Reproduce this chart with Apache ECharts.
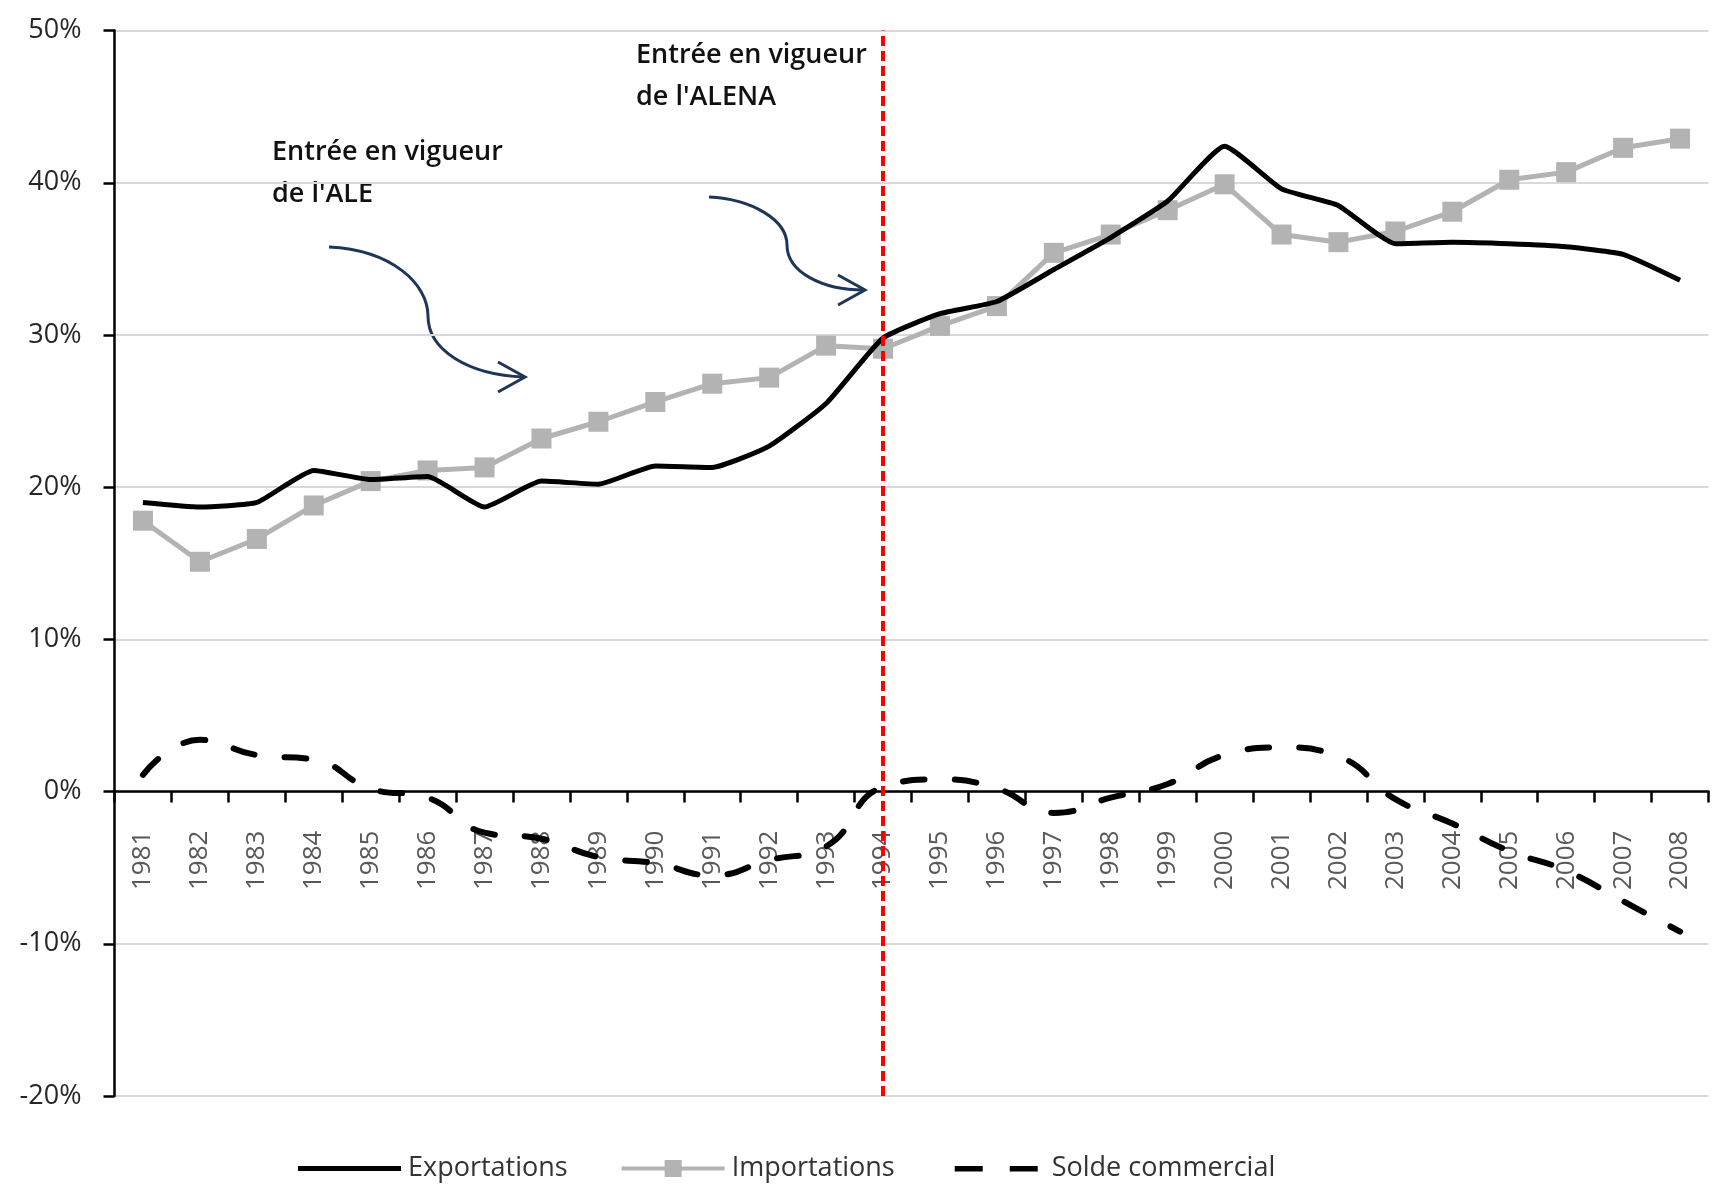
<!DOCTYPE html>
<html>
<head>
<meta charset="utf-8">
<script src="https://cdn.jsdelivr.net/npm/echarts@6/dist/echarts.min.js"></script>
<style>
  html, body { margin: 0; padding: 0; background: #fff; }
  #chart { width: 1712px; height: 1185px; }
</style>
</head>
<body>
<div id="chart"></div>
<script>
const years = ['1981', '1982', '1983', '1984', '1985', '1986', '1987', '1988', '1989', '1990',
  '1991', '1992', '1993', '1994', '1995', '1996', '1997', '1998', '1999', '2000',
  '2001', '2002', '2003', '2004', '2005', '2006', '2007', '2008'];

const exportations = [19.0, 18.7, 19.0, 21.1, 20.5, 20.7, 18.7, 20.4, 20.2, 21.4,
  21.3, 22.7, 25.5, 29.8, 31.4, 32.2, 34.3, 36.4, 38.8, 42.4,
  39.6, 38.5, 36.0, 36.1, 36.0, 35.8, 35.3, 33.6];

const importations = [17.8, 15.1, 16.6, 18.8, 20.4, 21.1, 21.3, 23.2, 24.3, 25.6,
  26.8, 27.2, 29.3, 29.1, 30.6, 31.9, 35.4, 36.6, 38.2, 39.9,
  36.6, 36.1, 36.8, 38.1, 40.2, 40.7, 42.3, 42.9];

const solde = [1.1, 3.4, 2.4, 2.1, 0.2, -0.4, -2.7, -3.1, -4.3, -4.7,
  -5.5, -4.5, -3.6, 0.3, 0.8, 0.2, -1.4, -0.4, 0.5, 2.4,
  2.9, 2.3, -0.5, -2.1, -3.9, -5.2, -7.2, -9.2];

const yTicks = { min: -20, max: 50, step: 10 };
const aleYear = '1994';

const font = '"Open Sans", "Liberation Sans", sans-serif';
const arrowColor = '#1f3657';

const gridTop = 30.6, gridBottom = 89, chartH = 1185;
const gridH = chartH - gridTop - gridBottom;
// category axis sits on the 0% line, labels included
const xOffset = -gridH * (0 - yTicks.min) / (yTicks.max - yTicks.min);

// legend icons (0..19 tall box so every icon keeps the same scale)
const pad = 'M0,0 L0.1,0 Z M0,19 L0.1,19 Z ';
const iconSolid = 'path://' + pad + 'M0,7 H103 V12 H0 Z';
const iconMarker = 'path://' + pad + 'M0,7.5 H43 V1 H60 V7.5 H103 V11.5 H60 V18 H43 V11.5 H0 Z';
const iconDash = 'path://' + pad + 'M6,7 H34 V12.5 H6 Z M61,7 H89 V12.5 H61 Z';

// curved annotation arrow: two cubic segments + open head
function arrow(a, b) {
  const st = { stroke: arrowColor, lineWidth: 3, fill: null };
  return [
    { type: 'bezierCurve', shape: a, style: st },
    { type: 'bezierCurve', shape: b, style: st },
    {
      type: 'polyline',
      shape: { points: [[b.x2 - 26, b.y2 - 15], [b.x2 + 1, b.y2], [b.x2 - 26, b.y2 + 15]] },
      style: st
    }
  ];
}

const chart = echarts.init(document.getElementById('chart'));

const option = {
  backgroundColor: '#fff',
  animation: false,
  grid: { left: 114.5, right: 3.5, top: gridTop, bottom: gridBottom },
  xAxis: {
    type: 'category',
    data: years,
    boundaryGap: true,
    offset: xOffset,
    axisLine: { onZero: false, lineStyle: { color: '#000', width: 2.5 } },
    axisTick: { show: true, interval: 0, length: 11, lineStyle: { color: '#000', width: 2.5 } },
    axisLabel: {
      interval: 0, rotate: 90, margin: 39,
      fontFamily: font, fontSize: 26, color: '#595959'
    },
    splitLine: { show: false }
  },
  yAxis: {
    type: 'value',
    min: yTicks.min, max: yTicks.max, interval: yTicks.step,
    axisLine: { show: true, lineStyle: { color: '#000', width: 2.5 } },
    axisTick: { show: true, length: 11, lineStyle: { color: '#000', width: 2.5 } },
    axisLabel: {
      formatter: '{value}%', margin: 33,
      fontFamily: font, fontSize: 27, color: '#262626'
    },
    splitLine: { lineStyle: { color: '#d9d9d9', width: 2 } }
  },
  legend: {
    left: 293, top: 1150,
    itemWidth: 103, itemHeight: 19, itemGap: 54,
    itemStyle: { borderWidth: 0 },
    lineStyle: { width: 0 },
    textStyle: { fontFamily: font, fontSize: 27, color: '#333', padding: [0, 0, 0, 2] },
    data: [
      { name: 'Exportations', icon: iconSolid },
      { name: 'Importations', icon: iconMarker },
      { name: 'Solde commercial', icon: iconDash }
    ]
  },
  series: [
    {
      name: 'Exportations',
      type: 'line',
      data: exportations,
      smooth: 0.15,
      symbol: 'none',
      lineStyle: { color: '#000', width: 5 },
      itemStyle: { color: '#000' },
      z: 3
    },
    {
      name: 'Importations',
      type: 'line',
      data: importations,
      symbol: 'rect',
      symbolSize: 20,
      lineStyle: { color: '#b3b3b3', width: 5 },
      itemStyle: { color: '#b3b3b3' },
      z: 2
    },
    {
      name: 'Solde commercial',
      type: 'line',
      data: solde,
      smooth: 0.5,
      symbol: 'none',
      lineStyle: { color: '#000', width: 6, type: [22, 30], cap: 'round' },
      itemStyle: { color: '#000' },
      z: 3,
      markLine: {
        silent: true,
        symbol: 'none',
        label: { show: false },
        lineStyle: { color: '#ff0000', width: 4, type: [10, 5] },
        z: 5,
        data: [{ xAxis: aleYear }]
      }
    }
  ],
  graphic: {
    elements: [
      {
        type: 'text', x: 272, y: 131,
        style: {
          text: "Entrée en vigueur\nde l'ALE",
          font: '600 27px ' + font, fill: '#111', lineHeight: 42
        }
      },
      {
        type: 'text', x: 636, y: 34,
        style: {
          text: "Entrée en vigueur\nde l'ALENA",
          font: '600 27px ' + font, fill: '#111', lineHeight: 42
        }
      },
      ...arrow(
        { x1: 329, y1: 247, cpx1: 392, cpy1: 250, cpx2: 428, cpy2: 284, x2: 428, y2: 316 },
        { x1: 428, y1: 316, cpx1: 428, cpy1: 350, cpx2: 468, cpy2: 375, x2: 524, y2: 377 }
      ),
      ...arrow(
        { x1: 709, y1: 197, cpx1: 752, cpy1: 199, cpx2: 787, cpy2: 220, x2: 787, y2: 245 },
        { x1: 787, y1: 245, cpx1: 787, cpy1: 272, cpx2: 822, cpy2: 290, x2: 864, y2: 290 }
      )
    ]
  }
};

chart.setOption(option);
</script>
</body>
</html>
